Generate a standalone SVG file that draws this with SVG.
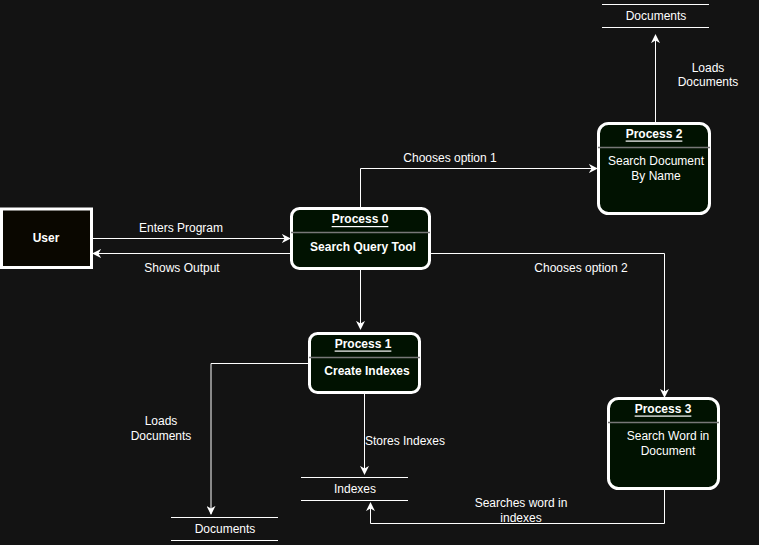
<svg xmlns="http://www.w3.org/2000/svg" width="759" height="545" viewBox="0 0 759 545">
<defs>
<marker id="arr" viewBox="0 0 10 10" refX="9" refY="5" markerWidth="9" markerHeight="9" markerUnits="userSpaceOnUse" orient="auto">
<path d="M0,0 L10,5 L0,10 L3,5 Z" fill="#ffffff"/>
</marker>
<style>
text{font-family:"Liberation Sans",Arial,sans-serif;font-size:12px;fill:#ffffff;text-anchor:middle;dominant-baseline:central}
.b{font-weight:bold}
.u{font-weight:bold;text-decoration:underline}
.proc{fill:#011201;stroke:#ffffff;stroke-width:3}
.div{stroke:#777777;stroke-width:1.5}
.store{stroke:#ffffff;stroke-width:1}
.c{fill:none;stroke:#ffffff;stroke-width:1;marker-end:url(#arr)}
</style>
</defs>
<rect width="759" height="545" fill="#131313"/>
<g id="connectors">
<path class="c" d="M92,238.5 H290"/>
<path class="c" d="M290,253.5 H93"/>
<path class="c" d="M360.5,207 V168.5 H597"/>
<path class="c" d="M431,253.5 H664.5 V397"/>
<path class="c" d="M360.5,270 V329"/>
<path class="c" d="M655.5,122 V35"/>
<path class="c" d="M308,363.5 H211 V514"/>
<path class="c" d="M364.5,394 V474"/>
<path class="c" d="M664.5,489 V523.5 H370.5 V503"/>
<text x="181" y="228">Enters Program</text>
<text x="182" y="268">Shows Output</text>
<text x="450" y="158">Chooses option 1</text>
<text x="581" y="268">Chooses option 2</text>
<text x="708" y="68">Loads</text>
<text x="708" y="82">Documents</text>
<text x="161" y="421">Loads</text>
<text x="161" y="436">Documents</text>
<text x="405" y="441">Stores Indexes</text>
<text x="521" y="503">Searches word in</text>
<text x="521" y="518">indexes</text>
</g>
<g id="user">
<rect x="1.5" y="209" width="90" height="58.5" fill="#0a0700" stroke="#ffffff" stroke-width="3"/>
<text class="b" x="46" y="238">User</text>
</g>
<g id="process0">
<rect class="proc" x="291.5" y="208.5" width="138" height="60" rx="8"/>
<line class="div" x1="291" y1="232.5" x2="430" y2="232.5"/>
<text class="u" x="360" y="219">Process 0</text>
<text class="b" x="363" y="247">Search Query Tool</text>
</g>
<g id="process1">
<rect class="proc" x="309.5" y="333.5" width="110" height="59" rx="8"/>
<line class="div" x1="309" y1="357.5" x2="420" y2="357.5"/>
<text class="u" x="363" y="343.5">Process 1</text>
<text class="b" x="367" y="371">Create Indexes</text>
</g>
<g id="process2">
<rect class="proc" x="598.5" y="123.5" width="111" height="90" rx="10"/>
<line class="div" x1="598" y1="147.5" x2="710" y2="147.5"/>
<text class="u" x="654" y="133.5">Process 2</text>
<text x="656" y="161">Search Document</text>
<text x="656" y="176">By Name</text>
</g>
<g id="process3">
<rect class="proc" x="608.5" y="398.5" width="110" height="90" rx="10"/>
<line class="div" x1="608" y1="422.5" x2="719" y2="422.5"/>
<text class="u" x="663" y="408.5">Process 3</text>
<text x="668" y="436">Search Word in</text>
<text x="668" y="451">Document</text>
</g>
<g id="documents-top">
<line class="store" x1="602" y1="4.5" x2="709" y2="4.5"/>
<line class="store" x1="602" y1="27.5" x2="709" y2="27.5"/>
<text x="656" y="15.5">Documents</text>
</g>
<g id="indexes">
<line class="store" x1="301" y1="477.5" x2="408" y2="477.5"/>
<line class="store" x1="301" y1="500.5" x2="408" y2="500.5"/>
<text x="355" y="489">Indexes</text>
</g>
<g id="documents-bottom">
<line class="store" x1="171" y1="517.5" x2="278" y2="517.5"/>
<line class="store" x1="171" y1="540.5" x2="278" y2="540.5"/>
<text x="225" y="529">Documents</text>
</g>
</svg>
